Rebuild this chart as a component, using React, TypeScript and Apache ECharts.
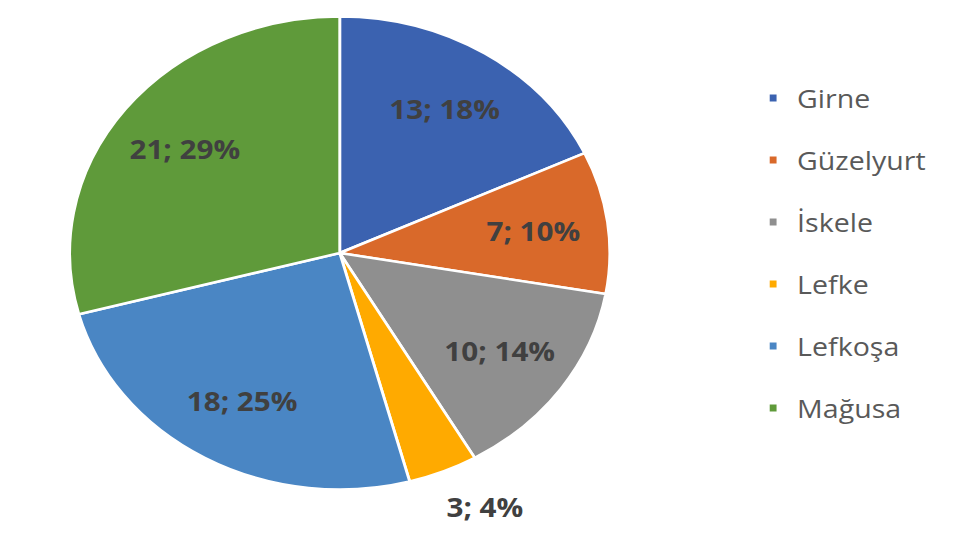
import React, { useEffect, useRef } from "react";
import * as echarts from "echarts";

const categories = ["Girne", "Güzelyurt", "İskele", "Lefke", "Lefkoşa", "Mağusa"];
const values = [13, 7, 10, 3, 18, 21];
const colors = ["#3B62B0", "#D9692A", "#8F8F8F", "#FFAA00", "#4A86C4", "#5F9A3A"];
const outsideLabelNames = ["Lefke"];

const SX = 1.142;
const W = 971 / SX;
const H = 551;

export default function App() {
  const ref = useRef<HTMLDivElement>(null);
  useEffect(() => {
    if (!ref.current) return;
    const chart = echarts.init(ref.current, null, { renderer: "svg" });
    const data = categories.map((name, i) => ({
      name,
      value: values[i],
      itemStyle: { color: colors[i] },
    }));
    const labelFont = {
      fontFamily: "Open Sans",
      fontWeight: "bold" as const,
      fontSize: 26,
      color: "#404040",
    };
    const center = [297.5, 253];
    const carrier = categories.map((name, i) => ({
      name,
      value: values[i],
      itemStyle: { color: "transparent" },
    }));
    chart.setOption({
      animation: false,
      legend: {
        orient: "vertical",
        left: 672,
        top: 82,
        padding: 0,
        icon: "rect",
        itemWidth: 8,
        itemHeight: 9,
        itemGap: 30,
        data: categories,
        textStyle: {
          fontFamily: "Open Sans",
          fontSize: 25,
          color: "#595959",
          padding: [0, 0, 0, 12],
          lineHeight: 32,
        },
      },
      series: [
        {
          type: "pie",
          center,
          radius: [0, 236.5],
          startAngle: 90,
          clockwise: true,
          percentPrecision: 0,
          silent: true,
          label: { show: false },
          labelLine: { show: false },
          itemStyle: { borderColor: "#ffffff", borderWidth: 2.5 },
          emphasis: { disabled: true },
          data,
        },
        {
          type: "pie",
          center,
          radius: [106, 230],
          startAngle: 90,
          clockwise: true,
          percentPrecision: 0,
          silent: true,
          legendHoverLink: false,
          labelLine: { show: false },
          emphasis: { disabled: true },
          itemStyle: { color: "transparent", borderWidth: 0 },
          label: {
            show: true,
            position: "inside",
            formatter: (p: any) =>
              outsideLabelNames.includes(p.name) ? "" : `${p.value}; ${p.percent}%`,
            ...labelFont,
          },
          data: carrier,
        },
        {
          type: "pie",
          center,
          radius: [255, 309],
          startAngle: 90,
          clockwise: true,
          percentPrecision: 0,
          silent: true,
          legendHoverLink: false,
          labelLine: { show: false },
          emphasis: { disabled: true },
          itemStyle: { color: "transparent", borderWidth: 0 },
          label: {
            show: true,
            position: "inside",
            offset: [18, -10],
            formatter: (p: any) =>
              outsideLabelNames.includes(p.name) ? `${p.value}; ${p.percent}%` : "",
            ...labelFont,
          },
          data: carrier,
        },
      ],
    });
    return () => chart.dispose();
  }, []);
  return (
    <div
      ref={ref}
      style={{
        position: "absolute",
        left: 0,
        top: 0,
        width: W,
        height: H,
        transform: `scaleX(${SX})`,
        transformOrigin: "0 0",
      }}
    />
  );
}
